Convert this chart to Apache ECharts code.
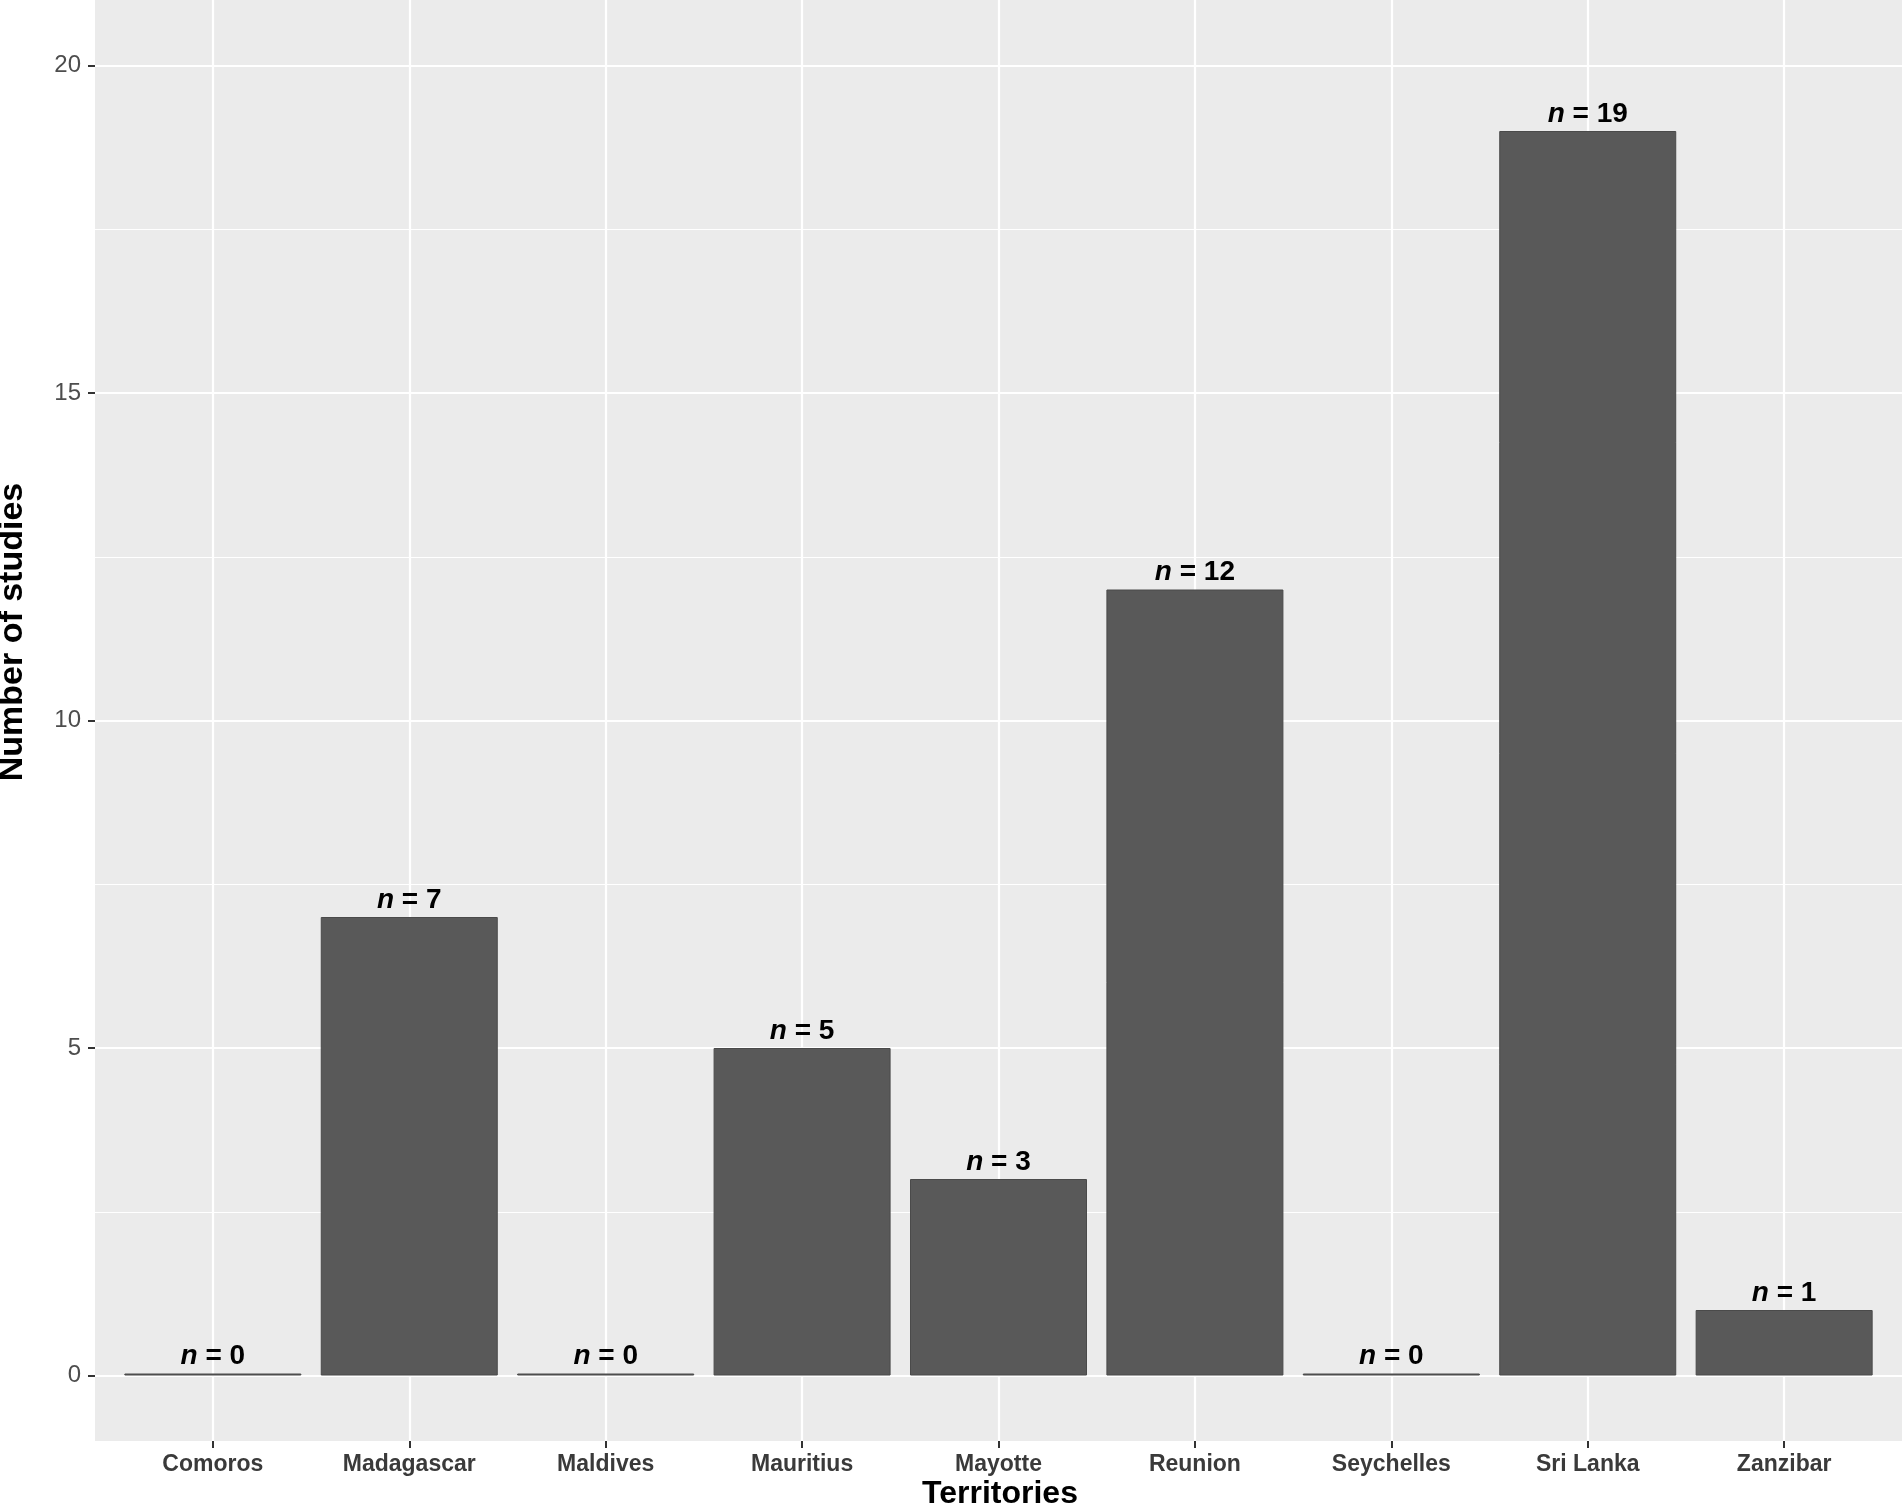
<!DOCTYPE html>
<html>
<head>
<meta charset="utf-8">
<script src="https://cdn.jsdelivr.net/npm/echarts@6/dist/echarts.min.js"></script>
<style>
html,body{margin:0;padding:0;background:#fff;}
#chart{width:1902px;height:1507px;}
</style>
</head>
<body>
<div id="chart"></div>
<script>
const categories = ['Comoros','Madagascar','Maldives','Mauritius','Mayotte','Reunion','Seychelles','Sri Lanka','Zanzibar'];
const counts = [0, 7, 0, 5, 3, 12, 0, 19, 1];
const yTicks = [0, 5, 10, 15, 20];
const yMinorTicks = [2.5, 7.5, 12.5, 17.5];
const xPositions = categories.map((c, i) => i + 1);

const FONT = '"Liberation Sans", Arial, Helvetica, sans-serif';
const chart = echarts.init(document.getElementById('chart'));

chart.setOption({
  animation: false,
  backgroundColor: '#ffffff',
  grid: {
    left: 95, right: 0, top: 0, bottom: 66,
    show: true, backgroundColor: '#EBEBEB', borderWidth: 0
  },
  xAxis: {
    type: 'value',
    min: 0.4, max: 9.6,
    axisLine: { show: false, onZero: false },
    axisTick: { show: true, customValues: xPositions, length: 7, lineStyle: { color: '#333333', width: 2 } },
    axisLabel: {
      customValues: xPositions,
      formatter: v => categories[Math.round(v) - 1] || '',
      fontFamily: FONT, fontSize: 23, fontWeight: 'bold', color: '#3a3a3a', margin: 12
    },
    splitLine: { show: true, lineStyle: { color: '#ffffff', width: 2.2 } }
  },
  yAxis: [
    {
      type: 'value',
      min: -1, max: 21,
      axisLine: { show: false, onZero: false },
      axisTick: { show: true, customValues: yTicks, length: 7, lineStyle: { color: '#333333', width: 2 } },
      axisLabel: {
        customValues: yTicks,
        fontFamily: FONT, fontSize: 24, color: '#4D4D4D', margin: 14
      },
      splitLine: { show: true, lineStyle: { color: '#ffffff', width: 2.2 } },
      z: 1
    },
    {
      type: 'value',
      position: 'right',
      min: -1, max: 21,
      axisLine: { show: false, onZero: false },
      axisTick: { show: false, customValues: yMinorTicks },
      axisLabel: { show: false, customValues: yMinorTicks },
      splitLine: { show: true, lineStyle: { color: '#ffffff', width: 1.1 } },
      z: 0
    }
  ],
  graphic: [
    {
      type: 'text', x: 1000, y: 1494,
      style: { text: 'Territories', font: 'bold 32px ' + FONT, fill: '#000', align: 'center', verticalAlign: 'middle' }
    },
    {
      type: 'text', x: 13, y: 632, rotation: Math.PI / 2,
      style: { text: 'Number of studies', font: 'bold 34px ' + FONT, fill: '#000', align: 'center', verticalAlign: 'middle' }
    }
  ],
  series: [
    {
      type: 'bar', z: 2,
      yAxisIndex: 0,
      barWidth: 177,
      barMinHeight: 2,
      data: xPositions.map((x, i) => [x, counts[i]]),
      itemStyle: { color: '#595959', borderColor: '#4a4a4a', borderWidth: 1 },
      label: {
        show: true, position: 'top', distance: 3,
        formatter: p => '{i|n} = ' + p.value[1],
        fontFamily: FONT, fontSize: 28, fontWeight: 'bold', color: '#000',
        rich: { i: { fontFamily: FONT, fontSize: 28, fontWeight: 'bold', fontStyle: 'italic', color: '#000' } }
      }
    }
  ]
});
</script>
</body>
</html>
